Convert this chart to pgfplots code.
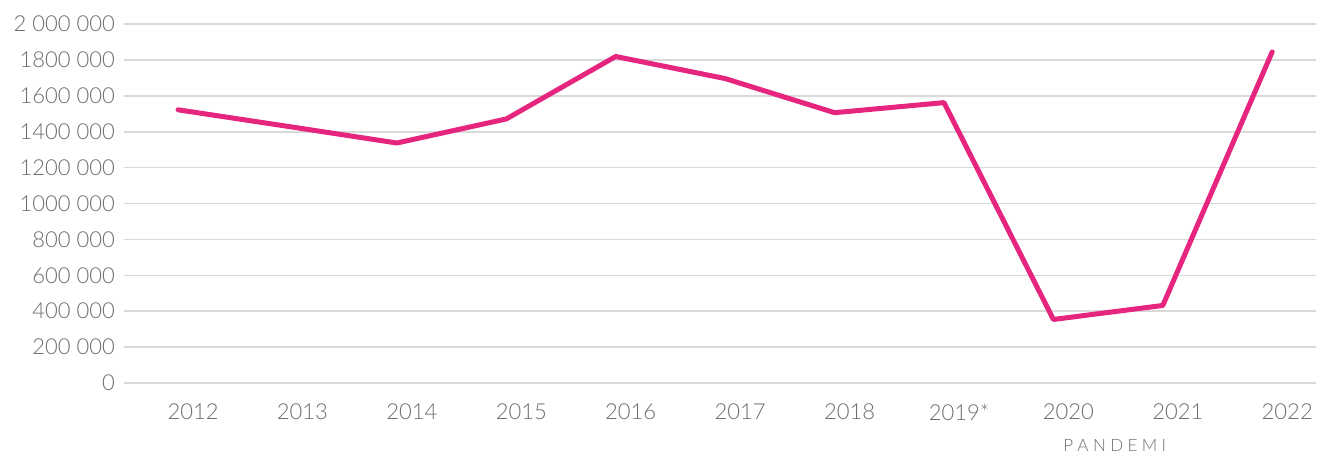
\documentclass[border=0pt]{standalone}
\usepackage{pgfplots}
\pgfplotsset{compat=1.18}
\usepackage{fontspec}
\setmainfont{Lato}[UprightFont={* Light}]
\definecolor{linec}{HTML}{E6267E}
\definecolor{gridc}{HTML}{D9D9D9}
\definecolor{txt}{HTML}{6D6D6D}
\begin{document}
\begin{tikzpicture}
\begin{axis}[
  name=ax,
  scale only axis,
  width=596pt, height=179.5pt,
  xmin=-0.494, xmax=10.40,
  ymin=0, ymax=2000000,
  axis line style={draw=none},
  ymajorgrids,
  grid style={gridc, line width=0.8pt},
  major tick length=0pt,
  ytick={0,200000,...,2000000},
  yticklabels={0,200 000,400 000,600 000,800 000,1000 000,1200 000,1400 000,1600 000,1800 000,2 000 000},
  xtick={0,...,10},
  xticklabels={2012,2013,2014,2015,2016,2017,2018,2019*,2020,2021,2022},
  tick label style={font=\fontsize{11}{13}\selectfont, text=txt},
  xticklabel style={yshift=-7pt, xshift=7.5pt},
  yticklabel style={xshift=-1pt},
  scaled y ticks=false,
  clip=false,
]
\addplot[linec, line width=2.5pt, line cap=round, line join=round] coordinates {
  (0,1522000) (1,1430000) (2,1337000) (3,1471000) (4,1819000)
  (5,1696000) (6,1506000) (7,1562000) (8,354000) (9,432000) (10,1845000)
};
\node[text=txt, font=\fontsize{8.5}{10}\selectfont, anchor=base] at (axis cs:8.56,0) [yshift=-34pt] {P\kern2.2pt A\kern2.2pt N\kern2.2pt D\kern2.2pt E\kern2.2pt M\kern2.2pt I};
\end{axis}
\pgfresetboundingbox
\path (ax.south west) ++(-62pt,-39pt) rectangle ++(659.5pt,230.5pt);
\end{tikzpicture}
\end{document}
